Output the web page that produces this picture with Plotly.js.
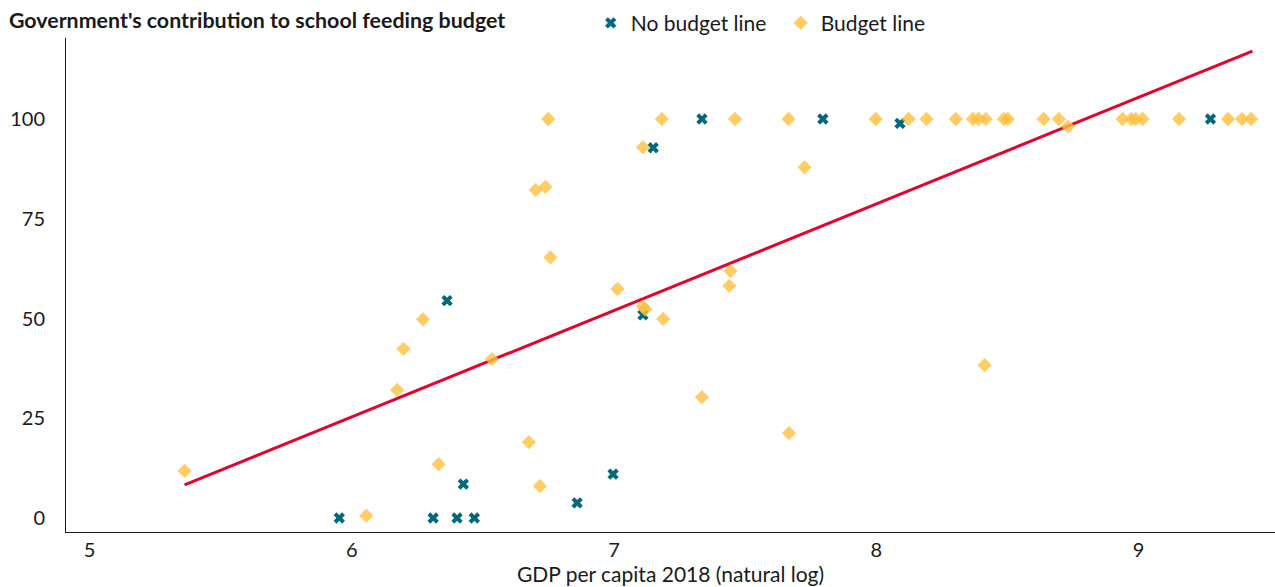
<!DOCTYPE html>
<html>
<head>
<meta charset="utf-8">
<script src="https://cdn.plot.ly/plotly-3.0.1.min.js"></script>
<style>html,body{margin:0;padding:0;background:#fff;}#chart{width:1275px;height:587px;}</style>
</head>
<body>
<div id="chart"></div>
<script>
// No budget line (teal crosses)
const noBudgetX = [5.952, 6.310, 6.401, 6.467, 6.363, 6.425, 6.859, 6.996, 7.110, 7.149, 7.335, 7.796, 8.090, 9.274];
const noBudgetY = [0, 0, 0, 0, 54.5, 8.5, 3.8, 11.0, 50.9, 92.8, 100, 100, 98.9, 100];

// Budget line (yellow diamonds)
const budgetX = [5.362, 6.055, 6.173, 6.197, 6.271, 6.331, 6.534, 6.675, 6.717, 6.701, 6.738, 6.749, 6.757,
  7.013, 7.110, 7.110, 7.118, 7.187, 7.182, 7.335, 7.444, 7.439, 7.461, 7.665, 7.667, 7.726,
  7.998, 8.123, 8.191, 8.303, 8.368, 8.390, 8.417, 8.486, 8.501, 8.638, 8.696, 8.731, 8.413,
  8.939, 8.973, 8.989, 9.015, 9.154, 9.341, 9.394, 9.429];
const budgetY = [11.8, 0.6, 32.1, 42.4, 49.8, 13.5, 39.8, 19.0, 8.0, 82.2, 83.0, 100, 65.3,
  57.4, 92.9, 53.0, 52.3, 49.9, 100, 30.3, 61.9, 58.2, 100, 100, 21.3, 87.9,
  100, 100, 100, 100, 100, 100, 100, 100, 100, 100, 100, 98.1, 38.3,
  100, 100, 100, 100, 100, 100, 100, 100];

// Fitted line endpoints
const fitX = [5.362, 9.434];
const fitY = [8.3, 117.0];

const xTicks = [5, 6, 7, 8, 9];
const yTicks = [0, 25, 50, 75, 100];

const font = 'Lato, "Open Sans", sans-serif';
const ink = '#1a1a1a';

const traces = [
  {
    x: fitX, y: fitY, mode: 'lines', type: 'scatter', showlegend: false, hoverinfo: 'skip',
    line: {color: '#e4032e', width: 3}
  },
  {
    x: noBudgetX, y: noBudgetY, mode: 'markers', type: 'scatter', name: 'No budget line',
    marker: {symbol: 'x', size: 10, color: '#006a7c', line: {width: 0}}
  },
  {
    x: budgetX, y: budgetY, mode: 'markers', type: 'scatter', name: 'Budget line',
    marker: {symbol: 'diamond', size: 11, color: '#ffbf40', opacity: 0.8, line: {width: 0}}
  }
];

const layout = {
  width: 1275, height: 587,
  margin: {l: 66, r: 0, t: 38, b: 55},
  paper_bgcolor: '#fff', plot_bgcolor: '#fff',
  font: {family: font, size: 21, color: ink},
  title: {
    text: "<b>Government's contribution to school feeding budget</b>",
    font: {family: font, size: 21.4, color: ink},
    xref: 'container', yref: 'container', x: 0.007, xanchor: 'left', y: 0.965, yanchor: 'middle'
  },
  showlegend: true,
  legend: {
    orientation: 'h', x: 0.434, xanchor: 'left', y: 1.03, yanchor: 'middle',
    entrywidth: 145, entrywidthmode: 'pixels',
    font: {family: font, size: 21, color: ink}, bgcolor: 'rgba(0,0,0,0)'
  },
  xaxis: {
    range: [4.91, 9.52], tickvals: xTicks, ticktext: xTicks.map(String),
    showgrid: false, zeroline: false, showline: true, linecolor: ink, linewidth: 1,
    ticks: '', tickfont: {family: font, size: 20, color: ink},
    title: {text: 'GDP per capita 2018 (natural log)', font: {family: font, size: 21, color: ink}, standoff: 4}
  },
  yaxis: {
    range: [-3.5, 120.3], tickvals: yTicks, ticktext: yTicks.map(String),
    showgrid: false, zeroline: false, showline: true, linecolor: ink, linewidth: 1,
    ticks: '', tickfont: {family: font, size: 20, color: ink}, ticklabelstandoff: 16
  }
};

Plotly.newPlot('chart', traces, layout, {displayModeBar: false, responsive: false});
</script>
</body>
</html>
